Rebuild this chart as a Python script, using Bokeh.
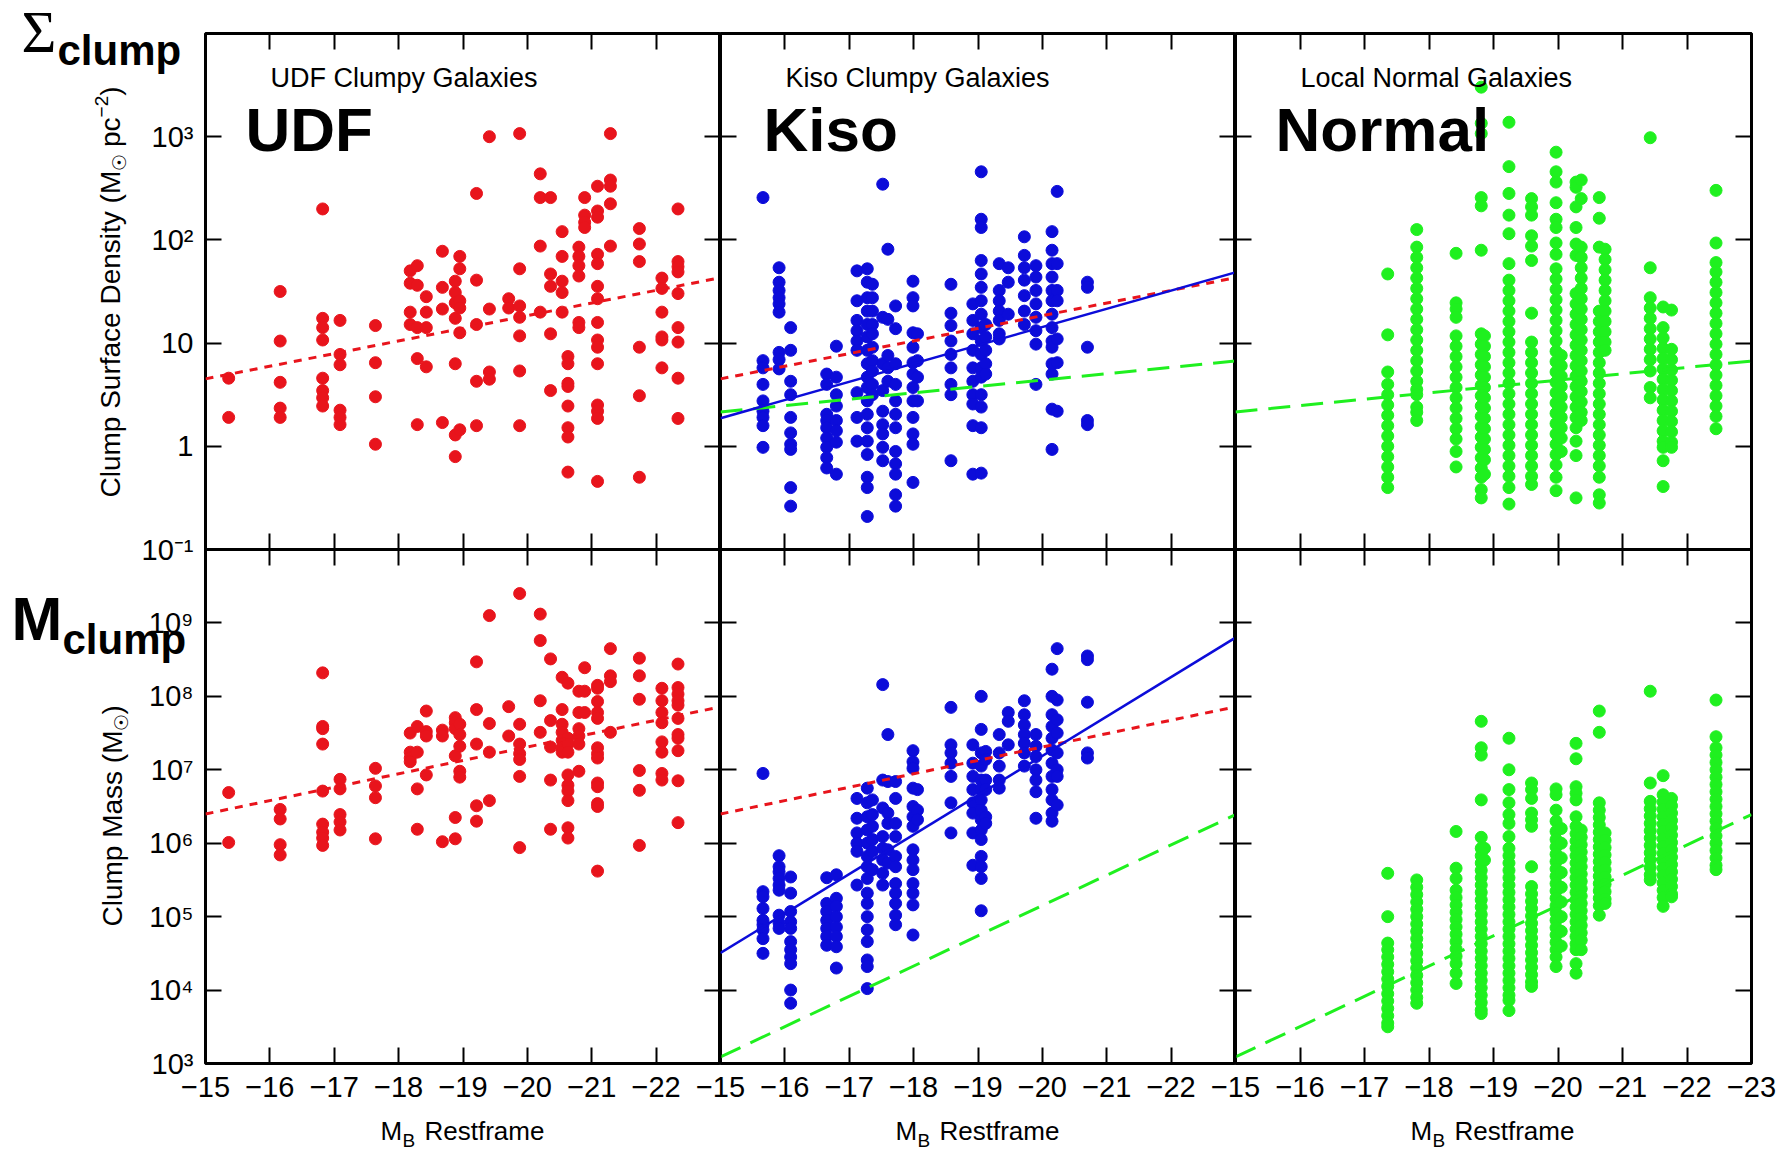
import math
from bokeh.plotting import figure
from bokeh.layouts import row, column
from bokeh.models import Range1d, LinearAxis, LogAxis, FixedTicker, Label, ColumnDataSource
from bokeh.embed import file_html
from bokeh.resources import INLINE

# ---------------- texts / ticks ----------------
PANEL_TITLES = ["UDF Clumpy Galaxies", "Kiso Clumpy Galaxies", "Local Normal Galaxies"]
PANEL_TAGS = ["UDF", "Kiso", "Normal"]
X_TICKS = [-15, -16, -17, -18, -19, -20, -21, -22, -23]
X_TICK_LABELS = ["−15", "−16", "−17", "−18", "−19", "−20", "−21", "−22", "−23"]
SD_TICKS = [0.1, 1, 10, 100, 1000, 10000]
SD_TICK_LABELS = ["10⁻¹", "1", "10", "10²", "10³", ""]
MASS_TICKS = [1e3, 1e4, 1e5, 1e6, 1e7, 1e8, 1e9, 1e10]
MASS_TICK_LABELS = ["10³", "10⁴", "10⁵", "10⁶", "10⁷", "10⁸", "10⁹", ""]

# ---------------- data (log10 of y, per galaxy column) ----------------
UDF_X = [-15.36, -16.16, -16.82, -17.09, -17.64, -18.18, -18.29, -18.43, -18.68, -18.88, -18.95,
         -19.21, -19.41, -19.71, -19.88, -20.20, -20.36, -20.54, -20.63, -20.80, -20.89, -21.09,
         -21.29, -21.74, -22.09, -22.34]
UDF_SD_LOG = [
    [0.66, 0.28], [1.50, 1.02, 0.62, 0.37, 0.28],
    [2.30, 1.24, 1.15, 1.03, 0.66, 0.54, 0.47, 0.39], [1.22, 0.89, 0.79, 0.35, 0.28, 0.21],
    [1.17, 0.81, 0.48, 0.02], [1.70, 1.58, 1.30, 1.18], [1.75, 1.56, 1.15, 0.85, 0.21],
    [1.45, 1.30, 1.15, 0.77], [1.89, 1.54, 1.33, 0.23], [1.60, 1.49, 1.39, 1.24, 0.80, 0.11, -0.10],
    [1.84, 1.72, 1.41, 1.34, 1.10, 0.16], [2.45, 1.61, 1.18, 0.63, 0.20], [3.00, 1.33, 0.72, 0.65],
    [1.43, 1.34], [3.03, 1.72, 1.36, 1.25, 1.07, 0.73, 0.20], [2.64, 2.41, 1.94, 1.30],
    [2.41, 1.67, 1.55, 1.09, 0.54], [2.08, 1.84, 1.60, 1.49, 1.30],
    [0.87, 0.80, 0.61, 0.58, 0.39, 0.18, 0.09, -0.25], [1.93, 1.84, 1.75, 1.65, 1.20, 1.15],
    [2.41, 2.24, 2.17, 2.12],
    [2.52, 2.28, 2.22, 1.86, 1.77, 1.55, 1.43, 1.20, 1.03, 0.96, 0.80, 0.40, 0.34, 0.27, -0.34],
    [3.03, 2.58, 2.52, 2.35, 1.94], [2.11, 1.96, 1.79, 0.96, 0.49, -0.30],
    [1.63, 1.53, 1.30, 1.06, 1.03, 0.76], [2.30, 1.79, 1.74, 1.69, 1.48, 1.15, 1.01, 0.66, 0.27],
]
UDF_MASS_LOG = [
    [6.69, 6.01], [6.46, 6.33, 5.98, 5.84], [8.32, 7.59, 7.56, 7.35, 6.71, 6.26, 6.15, 6.07, 5.97],
    [6.87, 6.74, 6.39, 6.29, 6.18], [7.02, 6.78, 6.62, 6.06], [7.50, 7.24, 7.16, 7.11],
    [7.59, 7.24, 6.74, 6.19], [7.80, 7.52, 7.46, 6.93], [7.54, 7.46, 6.02],
    [7.71, 7.64, 7.56, 7.19, 6.35, 6.06], [7.62, 7.48, 7.32, 6.98, 6.90],
    [8.47, 7.82, 7.35, 6.51, 6.30], [9.10, 7.63, 7.24, 6.58], [7.86, 7.46],
    [9.40, 7.62, 7.35, 7.22, 7.14, 6.91, 5.94], [9.12, 8.76, 7.94, 7.51],
    [8.51, 7.67, 7.31, 6.86, 6.19], [8.26, 7.82, 7.62, 7.51, 7.40, 7.30, 7.24],
    [8.18, 7.43, 7.35, 7.24, 6.93, 6.79, 6.71, 6.58, 6.21, 6.07], [8.07, 7.78, 7.56, 7.46, 7.35, 6.98],
    [8.39, 8.07, 7.78],
    [8.15, 8.11, 7.93, 7.78, 7.70, 7.30, 7.22, 7.16, 6.82, 6.77, 6.54, 6.50, 5.62],
    [8.65, 8.28, 8.20, 7.51], [8.52, 8.28, 7.96, 6.99, 6.72, 5.97],
    [8.11, 7.94, 7.78, 7.64, 7.38, 7.24, 6.95, 6.86],
    [8.44, 8.12, 8.03, 7.94, 7.88, 7.70, 7.48, 7.43, 7.26, 6.85, 6.28],
]

KISO_X = [-15.66, -15.91, -16.09, -16.65, -16.80, -17.12, -17.28, -17.36, -17.52, -17.60, -17.72,
          -17.99, -18.06, -18.58, -18.92, -19.05, -19.12, -19.33, -19.47, -19.72, -19.90, -20.15,
          -20.23, -20.70]
KISO_SD_LOG = [
    [2.41, 0.83, 0.76, 0.60, 0.44, 0.34, 0.28, 0.20, -0.01],
    [1.73, 1.59, 1.51, 1.44, 1.38, 1.30, 0.91, 0.84, 0.75],
    [1.15, 0.93, 0.63, 0.50, 0.28, 0.13, 0.02, -0.03, -0.40, -0.58],
    [0.70, 0.60, 0.31, 0.25, 0.18, 0.08, -0.01, -0.11, -0.21],
    [0.97, 0.67, 0.50, 0.39, 0.25, 0.15, 0.04, -0.27],
    [1.70, 1.41, 1.22, 1.12, 1.02, 0.93, 0.52, 0.28, 0.05],
    [1.72, 1.59, 1.44, 1.31, 1.18, 1.06, 0.93, 0.80, 0.67, 0.57, 0.44, 0.31, 0.18, 0.05, -0.08, -0.30, -0.40, -0.68],
    [1.57, 1.44, 1.31, 1.18, 1.09, 0.96, 0.83, 0.73, 0.60, 0.50],
    [2.54, 1.25, 0.80, 0.54, 0.34, 0.21, 0.12, -0.01, -0.14],
    [1.91, 1.23, 0.88, 0.76, 0.63],
    [1.36, 1.14, 0.80, 0.60, 0.44, 0.31, 0.18, -0.05, -0.17, -0.27, -0.47, -0.58],
    [1.60, 1.44, 1.36, 1.10, 0.96, 0.81, 0.70, 0.57, 0.44, 0.28, 0.12, 0.02, -0.35],
    [1.09, 0.83, 0.67, 0.44],
    [1.57, 1.29, 1.17, 1.02, 0.89, 0.76, 0.60, 0.50, -0.14],
    [1.38, 1.22, 1.09, 0.93, 0.76, 0.63, 0.50, 0.41, 0.20, -0.27],
    [2.66, 2.20, 2.12, 1.80, 1.67, 1.54, 1.41, 1.28, 1.15, 1.02, 0.89, 0.76, 0.67, 0.50, 0.38, 0.18, -0.26],
    [1.18, 1.06, 0.93, 0.80, 0.70],
    [1.77, 1.51, 1.41, 1.31, 1.22, 1.09, 1.04],
    [1.73, 1.59, 1.28],
    [2.03, 1.85, 1.73, 1.61, 1.46, 1.31, 1.18],
    [1.75, 1.64, 1.51, 1.38, 1.25, 1.12, 0.99, 0.60],
    [2.08, 1.90, 1.77, 1.64, 1.51, 1.41, 1.28, 1.15, 1.02, 0.96, 0.80, 0.70, 0.36, -0.03],
    [2.47, 1.77, 1.51, 1.41, 1.04, 0.81, 0.34],
    [1.59, 1.54, 0.96, 0.25, 0.21],
]
KISO_MASS_LOG = [
    [6.95, 5.34, 5.27, 5.11, 4.95, 4.89, 4.82, 4.70, 4.50],
    [5.83, 5.68, 5.61, 5.52, 5.43, 5.36, 5.02, 4.91, 4.84],
    [5.54, 5.32, 5.07, 4.93, 4.84, 4.66, 4.55, 4.45, 4.36, 4.00, 3.82],
    [5.53, 5.18, 5.07, 4.95, 4.84, 4.73, 4.61],
    [5.57, 5.25, 5.14, 5.00, 4.86, 4.73, 4.59, 4.30],
    [6.61, 6.34, 6.14, 6.00, 5.89, 5.43],
    [6.75, 6.55, 6.36, 6.18, 6.00, 5.82, 5.68, 5.52, 5.32, 5.18, 5.00, 4.82, 4.66, 4.41, 4.32, 4.02],
    [6.59, 6.39, 6.23, 6.05, 5.89, 5.64],
    [8.16, 6.86, 6.48, 6.09, 5.93, 5.77, 5.59, 5.43],
    [7.48, 6.84, 6.41, 6.27, 5.91, 5.73],
    [6.84, 6.61, 6.27, 6.09, 5.82, 5.68, 5.45, 5.32, 5.18, 5.02, 4.89],
    [7.26, 7.11, 7.02, 6.75, 6.50, 6.36, 6.23, 5.91, 5.77, 5.64, 5.45, 5.32, 5.16, 4.75],
    [6.73, 6.45, 6.32],
    [7.85, 7.34, 7.23, 7.09, 6.91, 6.55, 6.14],
    [7.34, 7.09, 6.91, 6.73, 6.55, 6.41, 6.14, 5.70],
    [8.00, 7.55, 7.23, 7.05, 6.86, 6.73, 6.59, 6.45, 6.32, 6.18, 6.05, 5.82, 5.68, 5.52, 5.08],
    [7.25, 7.14, 6.86, 6.73, 6.36, 6.27],
    [7.48, 7.23, 7.05, 6.86, 6.75],
    [7.78, 7.66, 7.34],
    [7.94, 7.75, 7.61, 7.48, 7.36, 7.23, 7.05],
    [7.48, 7.32, 7.18, 7.00, 6.86, 6.70, 6.34],
    [8.37, 8.00, 7.75, 7.59, 7.43, 7.27, 7.09, 6.91, 6.73, 6.59, 6.41, 6.30],
    [8.65, 7.95, 7.68, 7.50, 7.23, 7.00, 6.91, 6.52],
    [8.55, 8.50, 7.92, 7.23, 7.16],
]

NORM_X = [-17.36, -17.81, -18.42, -18.81, -18.86, -19.24, -19.59, -19.97, -20.05, -20.28, -20.36,
          -20.64, -20.73, -21.43, -21.63, -21.76, -22.45]
NORM_SD_LOG = [
    [1.67, 1.08, 0.72, 0.60, 0.50, 0.40, 0.30, 0.20, 0.10, 0.00, -0.10, -0.20, -0.30, -0.40],
    [2.10, 1.93, 1.83, 1.73, 1.63, 1.53, 1.43, 1.33, 1.23, 1.13, 1.03, 0.93, 0.83, 0.73, 0.63, 0.55, 0.50, 0.38, 0.33, 0.25],
    [1.87, 1.39, 1.33, 1.25, 1.07, 0.97, 0.87, 0.77, 0.67, 0.57, 0.47, 0.37, 0.27, 0.17, 0.07, -0.05, -0.20],
    [3.48, 3.13, 3.03, 2.41, 2.33, 1.90, 1.09, 0.99, 0.89, 0.79, 0.69, 0.59, 0.49, 0.39, 0.29, 0.19, 0.09, -0.01, -0.11, -0.21, -0.30, -0.42, -0.50],
    [1.07, 0.97, 0.87, 0.77, 0.67, 0.57, 0.47, 0.37, 0.27, 0.17, 0.07, -0.03, -0.13, -0.27],
    [3.14, 2.71, 2.45, 2.24, 2.06, 1.77, 1.61, 1.51, 1.41, 1.31, 1.21, 1.11, 1.01, 0.91, 0.81, 0.71, 0.61, 0.51, 0.41, 0.31, 0.21, 0.11, 0.01, -0.09, -0.19, -0.29, -0.40, -0.56],
    [2.40, 2.32, 2.24, 2.04, 1.94, 1.80, 1.29, 1.01, 0.91, 0.81, 0.71, 0.61, 0.51, 0.41, 0.31, 0.21, 0.11, 0.01, -0.09, -0.19, -0.29, -0.37],
    [2.85, 2.66, 2.56, 2.36, 2.20, 2.12, 1.97, 1.86, 1.72, 1.62, 1.52, 1.42, 1.32, 1.22, 1.12, 1.02, 0.92, 0.82, 0.72, 0.62, 0.52, 0.42, 0.32, 0.22, 0.12, 0.02, -0.08, -0.18, -0.30, -0.43],
    [0.88, 0.78, 0.68, 0.58, 0.48, 0.38, 0.28, 0.18, 0.08, -0.05],
    [2.56, 2.51, 2.32, 2.12, 1.96, 1.85, 1.48, 1.38, 1.28, 1.18, 1.08, 0.98, 0.88, 0.78, 0.68, 0.58, 0.48, 0.38, 0.28, 0.18, 0.05, -0.09, -0.50],
    [2.58, 2.40, 1.93, 1.83, 1.73, 1.63, 1.53, 1.43, 1.33, 1.23, 1.13, 1.03, 0.93, 0.83, 0.73, 0.63, 0.53, 0.43, 0.33, 0.25],
    [2.41, 2.21, 1.93, 1.31, 1.21, 1.11, 1.01, 0.91, 0.81, 0.71, 0.61, 0.51, 0.41, 0.31, 0.21, 0.11, 0.01, -0.09, -0.19, -0.30, -0.47, -0.55],
    [1.91, 1.81, 1.71, 1.61, 1.51, 1.41, 1.31, 1.21, 1.11, 1.01, 0.93],
    [2.99, 1.73, 1.44, 1.34, 1.24, 1.14, 1.04, 0.94, 0.84, 0.73, 0.57, 0.47],
    [1.35, 1.15, 1.05, 0.95, 0.85, 0.75, 0.65, 0.55, 0.45, 0.35, 0.25, 0.15, 0.05, -0.01, -0.14, -0.39],
    [1.32, 0.94, 0.84, 0.74, 0.64, 0.54, 0.44, 0.34, 0.24, 0.14, 0.04, -0.01],
    [2.48, 1.97, 1.78, 1.69, 1.59, 1.49, 1.39, 1.29, 1.19, 1.09, 0.99, 0.89, 0.79, 0.69, 0.59, 0.49, 0.39, 0.29, 0.17],
]
NORM_MASS_LOG = [
    [5.59, 5.00, 4.64, 4.55, 4.45, 4.35, 4.25, 4.15, 4.05, 3.95, 3.85, 3.75, 3.65, 3.55, 3.50],
    [5.50, 5.40, 5.30, 5.20, 5.10, 5.00, 4.90, 4.80, 4.70, 4.60, 4.50, 4.40, 4.30, 4.20, 4.10, 4.00, 3.90, 3.82],
    [6.16, 5.66, 5.52, 5.36, 5.26, 5.16, 5.06, 4.96, 4.86, 4.76, 4.66, 4.56, 4.46, 4.36, 4.23, 4.09],
    [7.66, 7.30, 7.20, 6.59, 6.08, 5.93, 5.83, 5.73, 5.63, 5.53, 5.43, 5.33, 5.23, 5.13, 5.03, 4.93, 4.83, 4.73, 4.63, 4.53, 4.43, 4.33, 4.23, 4.13, 4.03, 3.93, 3.83, 3.73, 3.68],
    [5.93, 5.77],
    [7.43, 7.00, 6.73, 6.55, 6.39, 6.27, 6.09, 5.93, 5.83, 5.73, 5.63, 5.53, 5.43, 5.33, 5.23, 5.13, 5.03, 4.93, 4.83, 4.73, 4.63, 4.53, 4.43, 4.33, 4.23, 4.13, 4.03, 3.93, 3.86, 3.72],
    [6.82, 6.73, 6.61, 6.41, 6.32, 6.23, 5.68, 5.41, 5.31, 5.21, 5.11, 5.01, 4.91, 4.81, 4.71, 4.61, 4.51, 4.41, 4.31, 4.21, 4.11, 4.05],
    [6.74, 6.66, 6.45, 6.30, 6.16, 6.05, 5.95, 5.85, 5.75, 5.65, 5.55, 5.45, 5.35, 5.25, 5.15, 5.05, 4.95, 4.85, 4.75, 4.65, 4.55, 4.45, 4.32],
    [6.20, 6.00, 5.80, 5.60, 5.40, 5.20, 5.00, 4.80, 4.60],
    [7.36, 7.15, 6.77, 6.68, 6.59, 6.36, 6.23, 6.13, 6.03, 5.93, 5.83, 5.73, 5.63, 5.53, 5.43, 5.33, 5.23, 5.13, 5.03, 4.93, 4.83, 4.73, 4.63, 4.55, 4.36, 4.23],
    [6.18, 6.08, 5.98, 5.88, 5.78, 5.68, 5.58, 5.48, 5.38, 5.28, 5.18, 5.08, 4.98, 4.88, 4.78, 4.68, 4.55],
    [7.80, 7.51, 6.55, 6.45, 6.35, 6.25, 6.15, 6.05, 5.95, 5.85, 5.75, 5.65, 5.55, 5.45, 5.35, 5.25, 5.15, 5.02],
    [6.14, 6.04, 5.94, 5.84, 5.74, 5.64, 5.54, 5.44, 5.34, 5.24, 5.18],
    [8.07, 6.82, 6.57, 6.47, 6.37, 6.27, 6.17, 6.07, 5.97, 5.87, 5.77, 5.67, 5.57, 5.50],
    [6.92, 6.66, 6.56, 6.46, 6.36, 6.26, 6.16, 6.06, 5.96, 5.86, 5.76, 5.66, 5.56, 5.46, 5.36, 5.26, 5.14],
    [6.61, 6.51, 6.41, 6.31, 6.21, 6.11, 6.01, 5.91, 5.81, 5.71, 5.61, 5.51, 5.41, 5.31, 5.27],
    [7.95, 7.45, 7.30, 7.20, 7.10, 7.00, 6.90, 6.80, 6.70, 6.60, 6.50, 6.40, 6.30, 6.20, 6.10, 6.00, 5.90, 5.80, 5.70, 5.64],
]

# fitted relations (end points at M_B = -15 and -23)
FIT_X = [-15, -23]
UDF_SD_FIT = [4.5, 43.0]
UDF_MASS_FIT = [2.5e6, 7.2e7]
KISO_SD_FIT = [1.87, 48.5]
KISO_MASS_FIT = [3.2e4, 6.3e8]
NORM_SD_FIT = [2.15, 6.7]
NORM_MASS_FIT = [1.23e3, 2.45e6]

# ---------------- style ----------------
RED = "#e8141c"
BLUE = "#0c0cd9"
GREEN = "#1ff01f"
FONT = "Liberation Sans"
BASE_K = 0.37   # observed shift of the drawn baseline, as a fraction of font size

ARIAL = {" ": 278, "(": 333, ")": 333, "C": 722, "l": 222, "u": 556, "m": 833, "p": 556,
         "S": 667, "r": 333, "f": 278, "a": 556, "c": 500, "e": 556, "D": 722, "n": 556,
         "s": 500, "i": 222, "t": 278, "y": 500, "M": 833, "☉": 840, "−": 584, "2": 556,
         "B": 667, "R": 722, "o": 556, "O": 778}


def tw(s, size):
    return sum(ARIAL.get(ch, 556) for ch in s) * size / 1000.0


COL_W = [720, 545, 578]
BL = [205, 30, 30]
BR = [0, 0, 32]
ROW_H = [569, 603]
BT = [33, 0]
BB = [20, 89]
FRAME_L = [205, 720, 1235]
Y_RANGES = [(0.1, 1e4), (1e3, 1e10)]


def flat(xs, logs):
    fx, fy = [], []
    for x, col in zip(xs, logs):
        for v in col:
            fx.append(x)
            fy.append(10 ** v)
    return fx, fy


def tick_axis(cls, ticks, labels, standoff):
    ax = cls(ticker=FixedTicker(ticks=ticks, minor_ticks=[]))
    ax.axis_line_color = None
    ax.major_tick_in = 16
    ax.major_tick_out = 0
    ax.minor_tick_in = 0
    ax.minor_tick_out = 0
    ax.major_tick_line_width = 2
    ax.major_tick_line_color = "black"
    ax.axis_label = None
    if labels is None:
        ax.major_label_overrides = {t: "" for t in ticks}
        ax.major_label_text_font_size = "0px"
        ax.major_label_standoff = 0
    else:
        ax.major_label_overrides = {t: l for t, l in zip(ticks, labels)}
        ax.major_label_text_font = FONT
        ax.major_label_text_font_size = "29px"
        ax.major_label_text_color = "black"
        ax.major_label_standoff = standoff
    return ax


figs = [[None] * 3 for _ in range(2)]
for r in range(2):
    for c in range(3):
        p = figure(width=COL_W[c], height=ROW_H[r],
                   x_range=Range1d(-15, -23), y_range=Range1d(*Y_RANGES[r]),
                   y_axis_type="log", x_axis_location=None, y_axis_location=None,
                   output_backend="svg", toolbar_location=None,
                   min_border=0, min_border_left=BL[c], min_border_right=BR[c],
                   min_border_top=BT[r], min_border_bottom=BB[r],
                   border_fill_color=None, background_fill_color="white",
                   outline_line_color="black", outline_line_width=3)
        p.grid.visible = False
        xl = list(X_TICK_LABELS)
        if c < 2:
            xl[-1] = ""
        p.add_layout(tick_axis(LinearAxis, X_TICKS, xl if r == 1 else None, 13), "below")
        p.add_layout(tick_axis(LinearAxis, X_TICKS, None, 0), "above")
        yt = SD_TICKS if r == 0 else MASS_TICKS
        yl = SD_TICK_LABELS if r == 0 else MASS_TICK_LABELS
        p.add_layout(tick_axis(LogAxis, yt, yl if c == 0 else None, 12), "left")
        p.add_layout(tick_axis(LogAxis, yt, None, 0), "right")
        figs[r][c] = p

# ---------------- glyphs ----------------
panels = [
    [(UDF_X, UDF_SD_LOG, RED), (KISO_X, KISO_SD_LOG, BLUE), (NORM_X, NORM_SD_LOG, GREEN)],
    [(UDF_X, UDF_MASS_LOG, RED), (KISO_X, KISO_MASS_LOG, BLUE), (NORM_X, NORM_MASS_LOG, GREEN)],
]
fits = [
    {"udf": UDF_SD_FIT, "kiso": KISO_SD_FIT, "norm": NORM_SD_FIT},
    {"udf": UDF_MASS_FIT, "kiso": KISO_MASS_FIT, "norm": NORM_MASS_FIT},
]
for r in range(2):
    for c in range(3):
        p = figs[r][c]
        xs, logs, col = panels[r][c]
        fx, fy = flat(xs, logs)
        p.scatter(x="x", y="y", source=ColumnDataSource(dict(x=fx, y=fy)),
                  size=12, fill_color=col, line_color=col, line_width=1)
        f = fits[r]
        if c == 0:
            p.line(FIT_X, f["udf"], line_color=RED, line_width=3, line_dash="8 7")
        elif c == 1:
            p.line(FIT_X, f["udf"], line_color=RED, line_width=3, line_dash="8 7")
            p.line(FIT_X, f["norm"], line_color=GREEN, line_width=3, line_dash="22 11")
            p.line(FIT_X, f["kiso"], line_color=BLUE, line_width=2.5)
        else:
            p.line(FIT_X, f["norm"], line_color=GREEN, line_width=3, line_dash="22 11")

# ---------------- transparent overlay holding the free texts ----------------
ov = figure(width=1783, height=1152, x_range=Range1d(0, 1783), y_range=Range1d(1152, 0),
            x_axis_location=None, y_axis_location=None, output_backend="svg",
            toolbar_location=None, min_border=0, border_fill_color=None,
            background_fill_color=None, outline_line_color=None, margin=(-1152, 0, 0, 0))
ov.grid.visible = False


def put(text, x, y, size, bold=False, font=FONT, rotated=False):
    if rotated:
        x = x - BASE_K * size - 8
    else:
        y = y - BASE_K * size
    ov.add_layout(Label(x=x, y=y, text=text, text_font=font, text_font_size=f"{size}px",
                        text_font_style="bold" if bold else "normal",
                        text_baseline="alphabetic", text_align="left",
                        angle=math.pi / 2 if rotated else 0.0, text_color="black"))


small_lefts = [270, 785, 1300]
big_lefts = [245, 763, 1275]
for c in range(3):
    put(PANEL_TITLES[c], small_lefts[c], 87, 27)
    put(PANEL_TAGS[c], big_lefts[c], 152, 62, bold=True)

# row labels
put("Σ", 21, 54, 60, font="Liberation Serif")
put("clump", 57, 66, 42, bold=True)
put("M", 11, 641, 61, bold=True)
put("clump", 62, 655, 42, bold=True)

# y-axis titles (rotated, built from pieces for sub/superscripts)
y0 = 497.0
s1 = "Clump Surface Density (M"
put(s1, 128, y0, 28, rotated=True)
y1 = y0 - tw(s1, 28)
put("☉", 134, y1, 19, rotated=True)
y2 = y1 - tw("☉", 19) - tw(" ", 28)
put("pc", 128, y2, 28, rotated=True)
y3 = y2 - tw("pc", 28)
put("−2", 116, y3, 19, rotated=True)
y4 = y3 - tw("−2", 19)
put(")", 128, y4, 28, rotated=True)

z0 = 926.0
t1 = "Clump Mass (M"
put(t1, 130, z0, 28, rotated=True)
z1 = z0 - tw(t1, 28)
put("☉", 136, z1, 19, rotated=True)
z2 = z1 - tw("☉", 19)
put(")", 130, z2, 28, rotated=True)

# x-axis titles
for c in range(3):
    fl = FRAME_L[c]
    put("M", fl + 175, 1140, 26)
    put("B", fl + 197, 1147, 19)
    put("Restframe", fl + 219, 1140, 26)

# ---------------- layout ----------------
for c in (1, 2):
    figs[0][c].margin = (0, 0, 0, -30)
    figs[1][c].margin = (0, 0, 0, -30)
top_row = row(*figs[0], spacing=0)
bottom_row = row(*figs[1], spacing=0, margin=(-20, 0, 0, 0))
layout = column(top_row, bottom_row, ov, spacing=0)

open("out.html", "w").write(file_html(layout, INLINE))
